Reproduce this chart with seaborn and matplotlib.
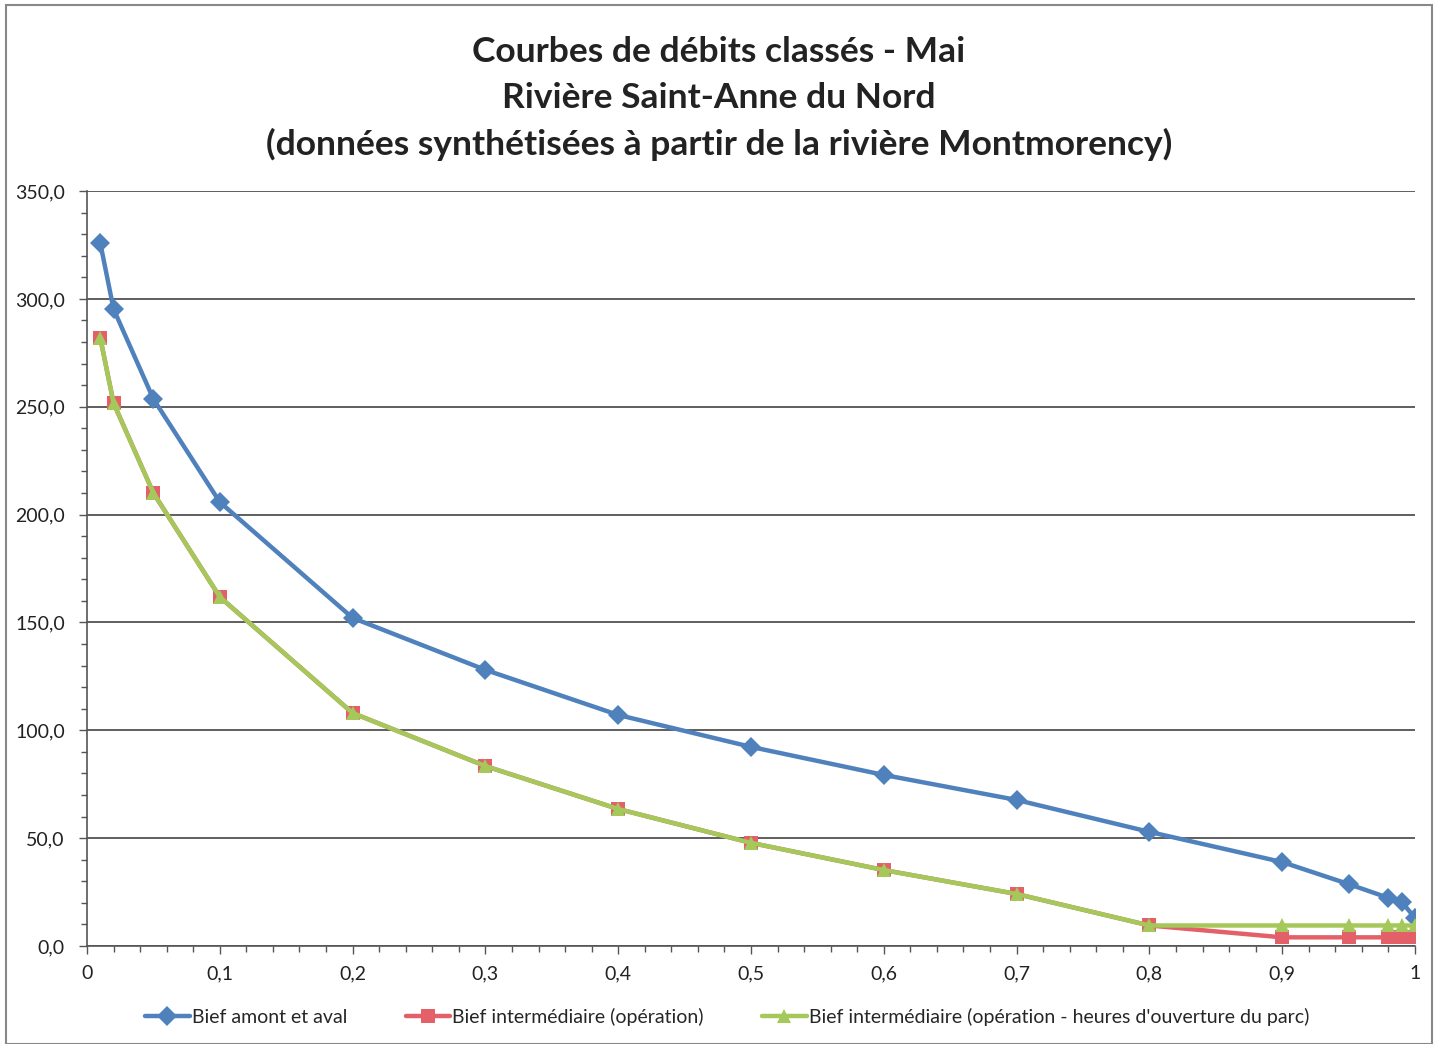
import matplotlib
matplotlib.use("Agg")
import matplotlib.pyplot as plt
import seaborn as sns
import pandas as pd
from matplotlib.ticker import MultipleLocator, FuncFormatter
from matplotlib.patches import Rectangle

x_vals = [0.01, 0.02, 0.05, 0.1, 0.2, 0.3, 0.4, 0.5, 0.6, 0.7, 0.8, 0.9, 0.95, 0.98, 0.99, 1.0]
amont_aval = [325.9, 295.3, 253.6, 205.8, 152.1, 128.0, 107.1, 92.3, 79.3, 67.7, 52.9, 38.9, 28.7, 22.3, 20.4, 13.0]
intermediaire = [281.9, 251.7, 210.0, 161.8, 108.0, 83.4, 63.5, 47.8, 35.2, 24.1, 9.5, 4.0, 4.0, 4.0, 4.0, 4.0]
intermediaire_parc = [281.9, 251.7, 210.0, 161.8, 108.0, 83.4, 63.5, 47.8, 35.2, 24.1, 9.5, 9.5, 9.5, 9.5, 9.5, 9.5]
series_names = ["Bief amont et aval",
                "Bief intermédiaire (opération)",
                "Bief intermédiaire (opération - heures d'ouverture du parc)"]
title_lines = ["Courbes de débits classés - Mai",
               "Rivière Saint-Anne du Nord",
               "(données synthétisées à partir de la rivière Montmorency)"]

df = pd.concat([
    pd.DataFrame({"x": x_vals, "y": amont_aval, "serie": series_names[0]}),
    pd.DataFrame({"x": x_vals, "y": intermediaire, "serie": series_names[1]}),
    pd.DataFrame({"x": x_vals, "y": intermediaire_parc, "serie": series_names[2]}),
])

sns.set_style("white")
plt.rcParams['font.family'] = ['Lato', 'DejaVu Sans']

fig = plt.figure(figsize=(14.38, 10.44), dpi=100)
ax = fig.add_axes([0.0605, 0.0939, 0.9235, 0.7231])

palette = {series_names[0]: "#4F81BD", series_names[1]: "#E46068", series_names[2]: "#A5C85A"}
markers = {series_names[0]: "D", series_names[1]: "s", series_names[2]: "^"}
sns.lineplot(data=df, x="x", y="y", hue="serie", style="serie", palette=palette,
             markers=markers, dashes=False, linewidth=3.2, markersize=10,
             markeredgewidth=0, ax=ax, legend=True)

ax.set_xlim(0, 1)
ax.set_ylim(0, 350)
ax.yaxis.set_major_locator(MultipleLocator(50))
ax.yaxis.set_minor_locator(MultipleLocator(10))
ax.xaxis.set_major_locator(MultipleLocator(0.1))
ax.xaxis.set_minor_locator(MultipleLocator(0.02))
ax.yaxis.set_major_formatter(FuncFormatter(lambda v, p: f"{v:.1f}".replace(".", ",")))
def xfmt(v, p):
    if abs(v) < 1e-9:
        return "0"
    if abs(v - 1) < 1e-9:
        return "1"
    return f"{v:.1f}".replace(".", ",")
ax.xaxis.set_major_formatter(FuncFormatter(xfmt))
ax.grid(axis="y", which="major", color="#333333", linewidth=1.1)
ax.set_axisbelow(True)
for s in ["top", "right"]:
    ax.spines[s].set_visible(False)
for s in ["left", "bottom"]:
    ax.spines[s].set_color("#555555")
    ax.spines[s].set_linewidth(1.2)
ax.tick_params(axis="both", which="major", direction="out", length=6, width=1, color="#555555",
               labelsize=14)
ax.tick_params(axis="x", which="major", pad=8)
ax.tick_params(axis="y", which="major", pad=10)
ax.tick_params(axis="both", which="minor", direction="out", length=4, width=1, color="#555555")
ax.tick_params(axis="both", bottom=True, left=True, which="both")
for lab in ax.get_xticklabels() + ax.get_yticklabels():
    lab.set_color("#222222")
ax.set_xlabel("")
ax.set_ylabel("")

h, l = ax.get_legend_handles_labels()
ax.legend(h, l, loc="center", bbox_to_anchor=(0.482, -0.094), ncol=3, frameon=False,
          fontsize=14, handlelength=2.3, handletextpad=0.1, columnspacing=3.0)

for i, t in enumerate(title_lines):
    fig.text(0.5, 1 - (52 + 46 * i) / 1044, t, ha="center", va="center",
             fontsize=25.5, fontweight="bold", color="#222222")

fig.patches.append(Rectangle((0.004, 0.0), 0.992, 0.995, transform=fig.transFigure,
                             fill=False, edgecolor="#888888", linewidth=1.5))

fig.savefig("out.png", dpi=100)
